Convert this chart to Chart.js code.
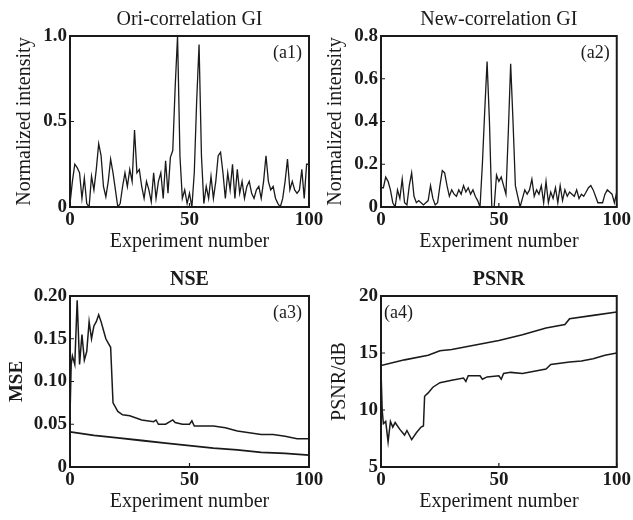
<!DOCTYPE html>
<html>
<head>
<meta charset="utf-8">
<script src="https://cdn.jsdelivr.net/npm/chart.js@4.4.0/dist/chart.umd.min.js"></script>
<style>
  html, body { margin: 0; padding: 0; background: #fff; }
  #wrap { position: relative; width: 633px; height: 520px; overflow: hidden; }
  canvas { position: absolute; }
</style>
</head>
<body>
<div id="wrap">
  <canvas id="a1" width="330" height="260" style="left:0;top:0;width:330px;height:260px"></canvas>
  <canvas id="a2" width="317" height="260" style="left:316px;top:0;width:317px;height:260px"></canvas>
  <canvas id="a3" width="330" height="260" style="left:0;top:260px;width:330px;height:260px"></canvas>
  <canvas id="a4" width="317" height="260" style="left:316px;top:260px;width:317px;height:260px"></canvas>
</div>
<script>
// x axis: experiment number
const xTicks = [0, 50, 100];
const xTickLabels = ["0", "50", "100"];

// (a1) Ori-correlation GI, value per experiment 0..100
const oriIntensity = [
  0.02, 0.15, 0.25, 0.23, 0.20, 0.05, 0.17, 0.02, 0.00, 0.18,
  0.10, 0.22, 0.37, 0.30, 0.12, 0.06, 0.15, 0.28, 0.20, 0.10,
  0.00, 0.02, 0.12, 0.20, 0.12, 0.22, 0.15, 0.45, 0.20, 0.22,
  0.12, 0.05, 0.15, 0.10, 0.03, 0.20, 0.05, 0.15, 0.20, 0.05,
  0.27, 0.08, 0.29, 0.33, 0.70, 1.00, 0.30, 0.05, 0.10, 0.02,
  0.08, 0.00, 0.20, 0.62, 0.95, 0.30, 0.02, 0.12, 0.05, 0.18,
  0.05, 0.15, 0.30, 0.32, 0.20, 0.05, 0.20, 0.10, 0.25, 0.05,
  0.22, 0.08, 0.15, 0.05, 0.12, 0.15, 0.08, 0.05, 0.10, 0.12,
  0.05, 0.15, 0.30, 0.15, 0.10, 0.12, 0.05, 0.02, 0.00, 0.05,
  0.15, 0.28, 0.10, 0.15, 0.10, 0.08, 0.10, 0.22, 0.05, 0.25,
  0.25
];
const a1YTicks = [0, 0.5, 1.0];
const a1YLabels = ["0", "0.5", "1.0"];

// (a2) New-correlation GI
const newIntensity = [
  0.09, 0.09, 0.14, 0.12, 0.08, 0.02, 0.00, 0.08, 0.04, 0.13,
  0.02, 0.01, 0.10, 0.16, 0.05, 0.02, 0.03, 0.02, 0.01, 0.02,
  0.03, 0.10, 0.04, 0.01, 0.02, 0.10, 0.17, 0.16, 0.10, 0.05,
  0.08, 0.06, 0.05, 0.08, 0.06, 0.10, 0.07, 0.09, 0.06, 0.08,
  0.05, 0.03, 0.00, 0.20, 0.45, 0.68, 0.40, 0.00, 0.00, 0.15,
  0.12, 0.14, 0.10, 0.06, 0.35, 0.67, 0.40, 0.10, 0.05, 0.00,
  0.04, 0.08, 0.06, 0.08, 0.13, 0.05, 0.08, 0.06, 0.10, 0.02,
  0.12, 0.02, 0.07, 0.04, 0.09, 0.02, 0.10, 0.03, 0.08, 0.05,
  0.07, 0.06, 0.05, 0.08, 0.04, 0.06, 0.05, 0.07, 0.09, 0.10,
  0.08, 0.05, 0.02, 0.02, 0.02, 0.06, 0.08, 0.07, 0.06, 0.02,
  0.07
];
const a2YTicks = [0, 0.2, 0.4, 0.6, 0.8];
const a2YLabels = ["0", "0.2", "0.4", "0.6", "0.8"];

// (a3) NSE
const nseOriX = [0, 0.5, 1, 2, 3, 4, 5, 6, 7, 8, 9, 10, 11, 12, 13, 14, 15, 16, 17, 18, 19, 20, 22, 25, 30, 35, 36, 37, 40, 43, 44, 47, 50, 51, 52, 55, 60, 65, 70, 75, 80, 85, 90, 95, 100];
const nseOriY = [0.06, 0.12, 0.13, 0.12, 0.195, 0.12, 0.155, 0.125, 0.135, 0.17, 0.15, 0.165, 0.17, 0.178, 0.17, 0.16, 0.15, 0.145, 0.14, 0.075, 0.07, 0.065, 0.061, 0.06, 0.055, 0.053, 0.055, 0.05, 0.05, 0.055, 0.052, 0.05, 0.05, 0.054, 0.048, 0.048, 0.048, 0.046, 0.042, 0.04, 0.038, 0.038, 0.036, 0.033, 0.033];
const nseNewX = [0, 10, 20, 30, 40, 50, 60, 70, 80, 90, 100];
const nseNewY = [0.041, 0.037, 0.034, 0.031, 0.028, 0.025, 0.022, 0.02, 0.017, 0.016, 0.014];
const a3YTicks = [0, 0.05, 0.10, 0.15, 0.20];
const a3YLabels = ["0", "0.05", "0.10", "0.15", "0.20"];

// (a4) PSNR
const psnrNewX = [0, 10, 20, 25, 30, 40, 50, 60, 70, 78, 80, 90, 100];
const psnrNewY = [13.9, 14.4, 14.8, 15.2, 15.3, 15.7, 16.1, 16.6, 17.2, 17.5, 18.0, 18.3, 18.6];
const psnrOriX = [0, 0.5, 1, 2, 3, 4, 5, 6, 8, 10, 11, 13, 15, 17, 18, 18.5, 20, 22, 25, 30, 35, 36, 37, 42, 43, 45, 50, 51, 52, 55, 60, 65, 70, 72, 80, 85, 90, 95, 100];
const psnrOriY = [13.5, 10, 8.8, 9.0, 7.2, 9.0, 8.5, 8.9, 8.3, 7.8, 8.2, 7.4, 8.0, 8.5, 8.6, 11.2, 11.5, 12.0, 12.4, 12.6, 12.8, 12.5, 13.0, 13.0, 12.7, 12.9, 13.0, 12.7, 13.2, 13.3, 13.2, 13.4, 13.6, 14.0, 14.2, 14.3, 14.5, 14.8, 15.0];
const a4YTicks = [5, 10, 15, 20];
const a4YLabels = ["5", "10", "15", "20"];

const SERIF = '"Liberation Serif", "DejaVu Serif", serif';
const INK = "#1a1a1a";

// frame, inward tick marks and the (aN) tag
const frameTicks = {
  id: "frameTicks",
  afterDatasetsDraw(chart, args, opts) {
    const { ctx, chartArea: a, scales: { x, y } } = chart;
    ctx.save();
    ctx.strokeStyle = INK;
    ctx.lineWidth = 2;
    ctx.strokeRect(a.left, a.top, a.right - a.left, a.bottom - a.top);
    ctx.lineWidth = 1.2;
    ctx.beginPath();
    y.ticks.forEach(t => {
      const py = y.getPixelForValue(t.value);
      ctx.moveTo(a.left, py);
      ctx.lineTo(a.left + 4, py);
    });
    x.ticks.forEach(t => {
      const px = x.getPixelForValue(t.value);
      ctx.moveTo(px, a.bottom);
      ctx.lineTo(px, a.bottom - 4);
    });
    ctx.stroke();
    if (opts.tag) {
      ctx.font = "18px " + SERIF;
      ctx.fillStyle = INK;
      ctx.textBaseline = "top";
      if (opts.tagSide === "left") {
        ctx.textAlign = "left";
        ctx.fillText(opts.tag, a.left + 3, a.top + 8);
      } else {
        ctx.textAlign = "right";
        ctx.fillText(opts.tag, a.right - 7, a.top + 8);
      }
    }
    ctx.restore();
  }
};
Chart.register(frameTicks);

function lineSet(xs, ys, width) {
  return {
    data: xs.map((v, i) => ({ x: v, y: ys[i] })),
    borderColor: INK,
    borderWidth: width || 1.3,
    pointRadius: 0,
    tension: 0,
    fill: false
  };
}

function makePanel(id, p) {
  return new Chart(document.getElementById(id), {
    type: "line",
    data: { datasets: p.datasets },
    options: {
      responsive: false,
      animation: false,
      devicePixelRatio: 1,
      layout: { padding: { top: 0, left: 0, right: p.padRight, bottom: 0 } },
      plugins: {
        legend: { display: false },
        tooltip: { enabled: false },
        title: {
          display: true,
          text: p.title,
          fullSize: false,
          color: INK,
          font: { family: SERIF, size: 20, weight: p.titleBold ? "bold" : "normal" },
          padding: { top: 8, bottom: 4 }
        },
        frameTicks: { tag: p.tag, tagSide: p.tagSide }
      },
      scales: {
        x: {
          type: "linear",
          min: 0,
          max: 100,
          grid: { display: false, drawTicks: false },
          border: { display: false },
          afterFit: s => { s.height = 53; },
          afterBuildTicks: s => { s.ticks = xTicks.map(v => ({ value: v })); },
          ticks: {
            padding: 2,
            color: INK,
            maxRotation: 0,
            font: { family: SERIF, size: 19, weight: "bold" },
            callback: (v, i) => xTickLabels[i]
          },
          title: {
            display: true,
            text: "Experiment number",
            color: INK,
            font: { family: SERIF, size: 20 },
            padding: { top: 0, bottom: 6 }
          }
        },
        y: {
          type: "linear",
          min: p.yTicks[0],
          max: p.yTicks[p.yTicks.length - 1],
          grid: { display: false, drawTicks: false },
          border: { display: false },
          afterFit: s => { s.width = p.yWidth; },
          afterBuildTicks: s => { s.ticks = p.yTicks.map(v => ({ value: v })); },
          ticks: {
            padding: 3,
            color: INK,
            font: { family: SERIF, size: 19, weight: "bold" },
            callback: (v, i) => p.yLabels[i]
          },
          title: {
            display: true,
            text: p.yTitle,
            color: INK,
            font: { family: SERIF, size: p.yTitleSize || 20, weight: p.yTitleBold ? "bold" : "normal" },
            padding: { top: p.yTitlePad, bottom: 0 }
          }
        }
      }
    }
  });
}

const expIndex = oriIntensity.map((v, i) => i);

makePanel("a1", {
  title: "Ori-correlation GI",
  tag: "(a1)", tagSide: "right",
  padRight: 21, yWidth: 70,
  yTicks: a1YTicks, yLabels: a1YLabels,
  yTitle: "Normalized intensity", yTitlePad: 13,
  datasets: [lineSet(expIndex, oriIntensity)]
});

makePanel("a2", {
  title: "New-correlation GI",
  tag: "(a2)", tagSide: "right",
  padRight: 14, yWidth: 65,
  yTicks: a2YTicks, yLabels: a2YLabels,
  yTitle: "Normalized intensity", yTitlePad: 8,
  datasets: [lineSet(expIndex, newIntensity)]
});

makePanel("a3", {
  title: "NSE", titleBold: true,
  tag: "(a3)", tagSide: "right",
  padRight: 21, yWidth: 70,
  yTicks: a3YTicks, yLabels: a3YLabels,
  yTitle: "MSE", yTitleBold: true, yTitleSize: 19, yTitlePad: 6,
  datasets: [lineSet(nseOriX, nseOriY, 1.5), lineSet(nseNewX, nseNewY, 1.8)]
});

makePanel("a4", {
  title: "PSNR", titleBold: true,
  tag: "(a4)", tagSide: "left",
  padRight: 14, yWidth: 65,
  yTicks: a4YTicks, yLabels: a4YLabels,
  yTitle: "PSNR/dB", yTitlePad: 12,
  datasets: [lineSet(psnrNewX, psnrNewY, 1.6), lineSet(psnrOriX, psnrOriY, 1.5)]
});
</script>
</body>
</html>
